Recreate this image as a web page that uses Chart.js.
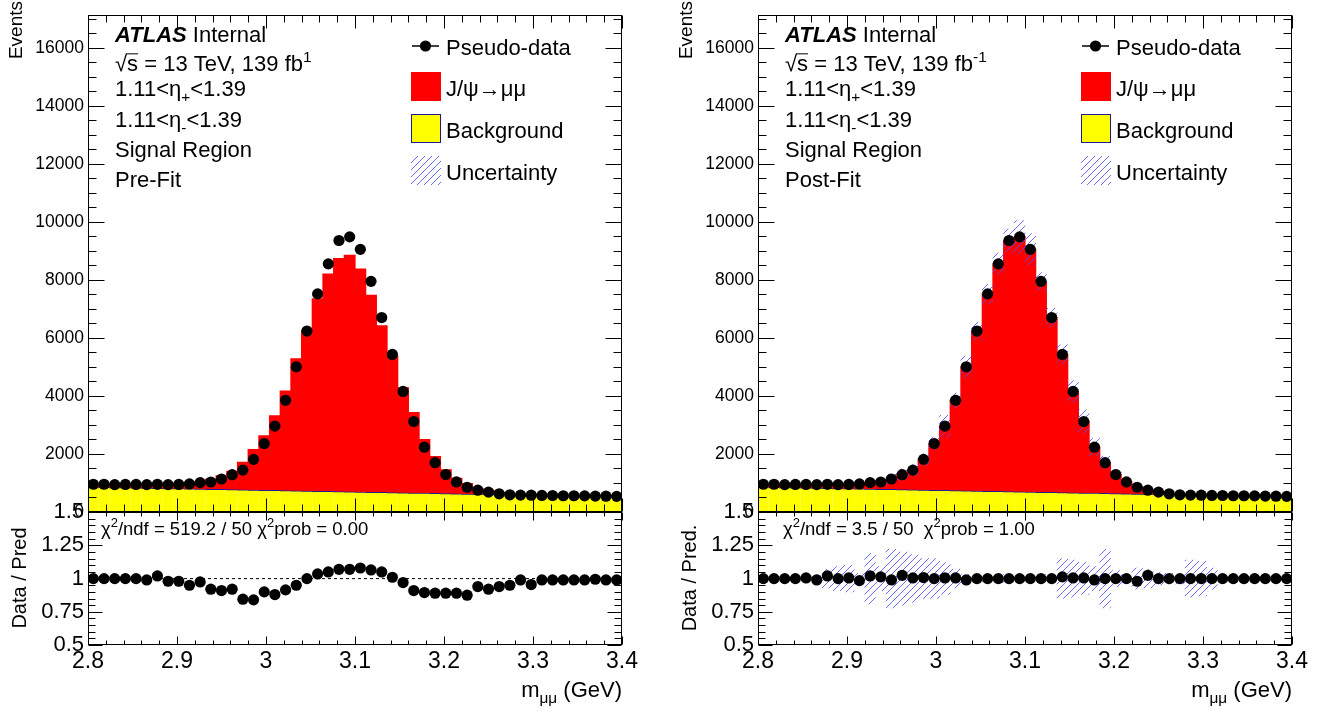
<!DOCTYPE html>
<html>
<head>
<meta charset="utf-8">
<script src="https://cdn.jsdelivr.net/npm/chart.js@4.4.1/dist/chart.umd.min.js"></script>
<style>
  body { margin: 0; background: #fff; width: 1323px; height: 713px; overflow: hidden; position: relative; }
  canvas { position: absolute; }
</style>
</head>
<body>
<canvas id="mainL" width="661" height="530" style="left:0;top:0"></canvas>
<canvas id="ratioL" width="661" height="218" style="left:0;top:495px"></canvas>
<canvas id="mainR" width="653" height="530" style="left:670px;top:0"></canvas>
<canvas id="ratioR" width="653" height="218" style="left:670px;top:495px"></canvas>
<script>
// bin centres of m_mumu (GeV), 50 bins from 2.8 to 3.4
const binCenters = [2.806, 2.818, 2.830, 2.842, 2.854, 2.866, 2.878, 2.890, 2.902, 2.914,
  2.926, 2.938, 2.950, 2.962, 2.974, 2.986, 2.998, 3.010, 3.022, 3.034,
  3.046, 3.058, 3.070, 3.082, 3.094, 3.106, 3.118, 3.130, 3.142, 3.154,
  3.166, 3.178, 3.190, 3.202, 3.214, 3.226, 3.238, 3.250, 3.262, 3.274,
  3.286, 3.298, 3.310, 3.322, 3.334, 3.346, 3.358, 3.370, 3.382, 3.394];

const pseudoData = [957, 957, 945, 950, 950, 945, 955, 945, 950, 967,
  1012, 1035, 1138, 1285, 1444, 1815, 2360, 2960, 3850, 5005,
  6237, 7519, 8554, 9360, 9485, 9054, 7951, 6702, 5431, 4155,
  3120, 2234, 1700, 1290, 1036, 854, 752, 684, 627, 593,
  582, 580, 570, 568, 560, 560, 555, 548, 545, 540];

const background = [850, 843, 836, 830, 823, 816, 809, 802, 796, 789,
  782, 775, 768, 762, 755, 748, 741, 734, 728, 721,
  714, 707, 700, 694, 687, 680, 673, 666, 660, 653,
  646, 639, 632, 626, 619, 612, 605, 598, 592, 585,
  578, 571, 564, 558, 551, 544, 537, 530, 524, 517];

const signalPre = [107, 114, 109, 120, 127, 139, 127, 162, 173, 229,
  256, 350, 482, 635, 954, 1402, 1885, 2584, 3442, 4559,
  5523, 6643, 7501, 8041, 8161, 7692, 6792, 5753, 4717, 3630,
  2783, 1857, 1278, 823, 545, 364, 195, 145, 75, 39,
  10, 36, 12, 16, 15, 22, 24, 21, 27, 28];

const signalPost = [107, 114, 109, 120, 127, 129, 146, 143, 154, 178,
  230, 260, 370, 523, 689, 1067, 1619, 2226, 3122, 4284,
  5523, 6812, 7854, 8666, 8798, 8374, 7278, 6036, 4771, 3502,
  2474, 1595, 1068, 664, 417, 242, 147, 86, 35, 8,
  4, 9, 6, 10, 9, 16, 18, 18, 21, 23];

const ratioPre = [1.00, 1.00, 1.00, 1.00, 1.00, 0.99, 1.02, 0.98, 0.98, 0.95,
  0.975, 0.92, 0.91, 0.92, 0.845, 0.84, 0.90, 0.88, 0.915, 0.95,
  1.00, 1.035, 1.05, 1.07, 1.07, 1.08, 1.065, 1.05, 1.01, 0.97,
  0.91, 0.895, 0.89, 0.89, 0.89, 0.875, 0.94, 0.92, 0.94, 0.95,
  0.99, 0.955, 0.99, 0.99, 0.99, 0.99, 0.99, 0.995, 0.99, 0.99];

const ratioPost = [1.00, 1.00, 1.00, 1.00, 1.005, 0.99, 1.02, 1.00, 1.005, 0.985,
  1.02, 1.013, 0.99, 1.025, 1.005, 1.008, 1.00, 1.005, 1.005, 0.99,
  1.00, 1.00, 1.00, 1.00, 1.00, 1.00, 1.00, 1.00, 1.013, 1.005,
  1.005, 0.99, 1.00, 1.00, 1.00, 0.98, 1.025, 1.00, 1.00, 1.00,
  1.00, 1.00, 1.00, 1.00, 1.00, 1.00, 1.00, 1.00, 1.00, 1.00];

// post-fit uncertainty: half widths in events (top pad) and in ratio units
const uncMainPost = [25, 25, 25, 30, 30, 40, 60, 80, 90, 70,
  150, 90, 180, 200, 180, 190, 220, 370, 250, 370,
  300, 330, 375, 390, 560, 540, 300, 320, 330, 370,
  400, 300, 220, 160, 90, 70, 60, 40, 30, 25,
  45, 60, 30, 20, 20, 20, 20, 20, 20, 20];
const uncRatioPost = [0.01, 0.01, 0.01, 0.01, 0.015, 0.02, 0.07, 0.09, 0.10, 0.04,
  0.19, 0.09, 0.22, 0.20, 0.18, 0.15, 0.15, 0.12, 0.07, 0.03,
  0.02, 0.02, 0.03, 0.02, 0.02, 0.02, 0.03, 0.02, 0.15, 0.14,
  0.12, 0.09, 0.22, 0.06, 0.03, 0.08, 0.07, 0.05, 0.04, 0.04,
  0.14, 0.13, 0.08, 0.02, 0.01, 0.01, 0.01, 0.01, 0.01, 0.01];

const xTicks = [2.8, 2.9, 3.0, 3.1, 3.2, 3.3, 3.4];
const eventTicks = [0, 2000, 4000, 6000, 8000, 10000, 12000, 14000, 16000];
const ratioTicks = [0.5, 0.75, 1, 1.25, 1.5];
const refLineX = [2.8, 3.4];

const FAM = '"Liberation Sans", Arial, Helvetica, sans-serif';
Chart.defaults.font.family = FAM;
Chart.defaults.color = '#000';

function hatchPattern() {
  const c = document.createElement('canvas');
  c.width = 7; c.height = 7;
  const g = c.getContext('2d');
  g.strokeStyle = 'rgba(80,80,255,0.85)';
  g.lineWidth = 1;
  g.beginPath();
  g.moveTo(0, 7); g.lineTo(7, 0);
  g.moveTo(-1, 1); g.lineTo(1, -1);
  g.moveTo(6, 8); g.lineTo(8, 6);
  g.stroke();
  return g.createPattern(c, 'repeat');
}
const hatch = hatchPattern();

// draw text made of pieces: [text, kind] kind = n | b (bold italic) | sub | sup | over
function rich(ctx, x, y, parts, size, align) {
  const fontOf = (k, s) => (k === 'b' ? 'italic bold ' : '') + s + 'px ' + FAM;
  const segs = parts.map(([t, k]) => {
    const s = (k === 'sub' || k === 'sup') ? size * 0.7 : size;
    ctx.font = fontOf(k, s);
    return { t, k, s, w: ctx.measureText(t).width };
  });
  const total = segs.reduce((a, b) => a + b.w, 0);
  let cx = align === 'right' ? x - total : x;
  ctx.textAlign = 'left';
  ctx.textBaseline = 'alphabetic';
  for (const g of segs) {
    ctx.font = fontOf(g.k, g.s);
    const dy = g.k === 'sub' ? size * 0.28 : g.k === 'sup' ? -size * 0.42 : 0;
    ctx.fillText(g.t, cx, y + dy);
    if (g.k === 'over') {
      ctx.beginPath();
      ctx.lineWidth = 1;
      ctx.moveTo(cx - 1, y - size * 0.78);
      ctx.lineTo(cx + g.w, y - size * 0.78);
      ctx.stroke();
    }
    cx += g.w;
  }
}

function vtext(ctx, text, x, y, size, align) {
  ctx.save();
  ctx.translate(x, y);
  ctx.rotate(-Math.PI / 2);
  ctx.font = size + 'px ' + FAM;
  ctx.textAlign = align;
  ctx.textBaseline = 'middle';
  ctx.fillText(text, 0, 0);
  ctx.restore();
}

// frame with inward ticks on all four sides
function drawFrame(chart, t) {
  const { ctx, chartArea: a, scales } = chart;
  const L = Math.round(a.left) + 0.5, R = Math.round(a.right) - 0.5;
  const T = Math.round(a.top) + 0.5, B = Math.round(a.bottom) - 0.5;
  ctx.save();
  ctx.strokeStyle = '#000';
  ctx.lineWidth = 1;
  ctx.beginPath();
  const nx = Math.round((3.4 - 2.8) / 0.02);
  for (let k = 0; k <= nx; k++) {
    const px = Math.round(scales.x.getPixelForValue(2.8 + k * 0.02)) + 0.5;
    const len = k % 5 === 0 ? t.xMaj : t.xMin;
    ctx.moveTo(px, B); ctx.lineTo(px, B - len);
    ctx.moveTo(px, T); ctx.lineTo(px, T + len);
  }
  const ys = scales.y;
  const ny = Math.round((t.yTop - t.yLow) / t.yMinor);
  for (let k = 0; k <= ny; k++) {
    const v = t.yLow + k * t.yMinor;
    if (v > ys.max + 1e-9) break;
    const py = Math.round(ys.getPixelForValue(v)) + 0.5;
    const len = k % t.yEvery === 0 ? t.yMaj : t.yMin;
    ctx.moveTo(L, py); ctx.lineTo(L + len, py);
    ctx.moveTo(R, py); ctx.lineTo(R - len, py);
  }
  ctx.stroke();
  ctx.strokeRect(L, T, R - L, B - T);
  ctx.restore();
}

function mainChart(id, signal, unc, fitLabel, fbSup) {
  const total = background.map((b, i) => b + signal[i]);
  const datasets = [
    { type: 'line', label: 'Pseudo-data', order: 0, showLine: false,
      data: binCenters.map((x, i) => ({ x, y: pseudoData[i] })),
      pointRadius: 5.6, pointBackgroundColor: '#000', pointBorderWidth: 0 },
    { type: 'bar', label: 'Background', order: 2,
      data: binCenters.map((x, i) => ({ x, y: background[i] })),
      backgroundColor: '#ffff00', borderColor: '#1a1a9a', inflateAmount: 0.6,
      borderWidth: { top: 1, left: 0, right: 0, bottom: 0 } },
    { type: 'bar', label: 'Signal', order: 3,
      data: binCenters.map((x, i) => ({ x, y: [background[i], total[i]] })),
      backgroundColor: '#ff0000', borderWidth: 0, inflateAmount: 0.6 }
  ];
  if (unc) {
    datasets.push({ type: 'bar', label: 'Uncertainty', order: 1,
      data: binCenters.map((x, i) => ({ x, y: [total[i] - unc[i], total[i] + unc[i]] })),
      backgroundColor: hatch, borderWidth: 0 });
  }
  new Chart(document.getElementById(id), {
    type: 'bar',
    data: { datasets },
    options: {
      responsive: false, animation: false,
      layout: { padding: { top: 8, bottom: 18, right: id === 'mainL' ? 39 : 31, left: 0 } },
      datasets: { bar: { barPercentage: 1, categoryPercentage: 1 } },
      plugins: { legend: { display: false }, tooltip: { enabled: false } },
      scales: {
        x: { type: 'linear', min: 2.8, max: 3.4, offset: false, display: false, stacked: true },
        y: { min: 0, max: 17150,
          afterBuildTicks: s => { s.ticks = eventTicks.map(v => ({ value: v })); },
          ticks: { autoSkip: false, padding: 4, font: { size: 17.5 }, color: '#000',
            callback: v => String(v) },
          grid: { display: false, drawTicks: false }, border: { display: false },
          afterFit: s => { s.width = 88; } }
      }
    },
    plugins: [{
      id: 'deco',
      afterDatasetsDraw(chart) {
        drawFrame(chart, { xMaj: 13, xMin: 7, yLow: 0, yTop: 17150, yMinor: 500, yEvery: 4, yMaj: 16, yMin: 8 });
      },
      afterDraw(chart) {
        const ctx = chart.ctx, a = chart.chartArea;
        ctx.save();
        ctx.fillStyle = '#000'; ctx.strokeStyle = '#000';
        vtext(ctx, 'Events', 17, 1, 19, 'right');
        const x0 = a.left + 27;
        rich(ctx, x0, 42, [['ATLAS', 'b'], [' Internal', 'n']], 22);
        rich(ctx, x0, 71, [['\u221A', 'n'], ['s', 'over'], [' = 13 TeV, 139 fb', 'n'], [fbSup, 'sup']], 22);
        rich(ctx, x0, 96, [['1.11<\u03B7', 'n'], ['+', 'sub'], ['<1.39', 'n']], 22);
        rich(ctx, x0, 127, [['1.11<\u03B7', 'n'], ['-', 'sub'], ['<1.39', 'n']], 22);
        rich(ctx, x0, 157, [['Signal Region', 'n']], 22);
        rich(ctx, x0, 187, [[fitLabel, 'n']], 22);
        // legend
        const bx = a.left + 323, tx = a.left + 358;
        ctx.beginPath(); ctx.lineWidth = 1.5;
        ctx.moveTo(bx + 1, 46); ctx.lineTo(bx + 28, 46); ctx.stroke();
        ctx.beginPath(); ctx.arc(bx + 14.5, 46, 5.6, 0, Math.PI * 2); ctx.fill();
        rich(ctx, tx, 55, [['Pseudo-data', 'n']], 22);
        ctx.fillStyle = '#ff0000'; ctx.fillRect(bx, 72, 30, 29);
        ctx.fillStyle = '#000';
        rich(ctx, tx, 96, [['J/\u03C8\u2192\u03BC\u03BC', 'n']], 22);
        ctx.fillStyle = '#ffff00'; ctx.fillRect(bx, 114, 30, 29);
        ctx.strokeStyle = '#1a1a9a'; ctx.lineWidth = 1; ctx.strokeRect(bx + 0.5, 114.5, 29, 28);
        ctx.fillStyle = '#000';
        rich(ctx, tx, 138, [['Background', 'n']], 22);
        ctx.fillStyle = hatch; ctx.fillRect(bx, 156, 30, 29);
        ctx.fillStyle = '#000';
        rich(ctx, tx, 180, [['Uncertainty', 'n']], 22);
        ctx.restore();
      }
    }]
  });
}

function ratioChart(id, ratio, unc, chiText, chiX, yTitle, showRef) {
  const datasets = [
    { type: 'line', label: 'Ratio', order: 0, showLine: false,
      data: binCenters.map((x, i) => ({ x, y: ratio[i] })),
      pointRadius: 5.6, pointBackgroundColor: '#000', pointBorderWidth: 0 }
  ];
  if (showRef) {
    datasets.push({ type: 'line', label: 'ref', order: 2,
      data: refLineX.map(x => ({ x, y: 1 })),
      borderColor: '#000', borderWidth: 1, borderDash: [3, 3], pointRadius: 0 });
  }
  if (unc) {
    datasets.push({ type: 'bar', label: 'Uncertainty', order: 1,
      data: binCenters.map((x, i) => ({ x, y: [1 - unc[i], 1 + unc[i]] })),
      backgroundColor: hatch, borderWidth: 0, barPercentage: 1, categoryPercentage: 1 });
  }
  new Chart(document.getElementById(id), {
    type: 'line',
    data: { datasets },
    options: {
      responsive: false, animation: false,
      layout: { padding: { top: 17, bottom: 0, right: id === 'ratioL' ? 39 : 31, left: 0 } },
      plugins: { legend: { display: false }, tooltip: { enabled: false } },
      scales: {
        x: { type: 'linear', min: 2.8, max: 3.4, offset: false,
          afterBuildTicks: s => { s.ticks = xTicks.map(v => ({ value: v })); },
          ticks: { autoSkip: false, maxRotation: 0, padding: 3, font: { size: 23 }, color: '#000',
            callback: v => String(Math.round(v * 10) / 10) },
          grid: { display: false, drawTicks: false }, border: { display: false },
          afterFit: s => { s.height = 68; } },
        y: { min: 0.5, max: 1.5,
          afterBuildTicks: s => { s.ticks = ratioTicks.map(v => ({ value: v })); },
          ticks: { autoSkip: false, padding: 4, font: { size: 22 }, color: '#000',
            callback: v => String(Math.round(v * 100) / 100) },
          grid: { display: false, drawTicks: false }, border: { display: false },
          afterFit: s => { s.width = 88; } }
      }
    },
    plugins: [{
      id: 'deco',
      afterDatasetsDraw(chart) {
        drawFrame(chart, { xMaj: 8, xMin: 4, yLow: 0.5, yTop: 1.5, yMinor: 0.05, yEvery: 5, yMaj: 14, yMin: 7 });
      },
      afterDraw(chart) {
        const ctx = chart.ctx, a = chart.chartArea;
        ctx.save();
        ctx.fillStyle = '#000'; ctx.strokeStyle = '#000';
        rich(ctx, a.left + chiX, 40, chiText, 18.5);
        vtext(ctx, yTitle, 20, 83, 20, 'center');
        rich(ctx, a.right, 202, [['m', 'n'], ['\u03BC\u03BC', 'sub'], [' (GeV)', 'n']], 22, 'right');
        ctx.restore();
      }
    }]
  });
}

mainChart('mainL', signalPre, null, 'Pre-Fit', '1');
mainChart('mainR', signalPost, uncMainPost, 'Post-Fit', '-1');
ratioChart('ratioL', ratioPre, null,
  [['\u03C7', 'n'], ['2', 'sup'], ['/ndf = 519.2 / 50 \u03C7', 'n'], ['2', 'sup'], ['prob = 0.00', 'n']],
  13, 'Data / Pred', true);
ratioChart('ratioR', ratioPost, uncRatioPost,
  [['\u03C7', 'n'], ['2', 'sup'], ['/ndf = 3.5 / 50  \u03C7', 'n'], ['2', 'sup'], ['prob = 1.00', 'n']],
  25, 'Data / Pred.', false);
</script>
</body>
</html>
